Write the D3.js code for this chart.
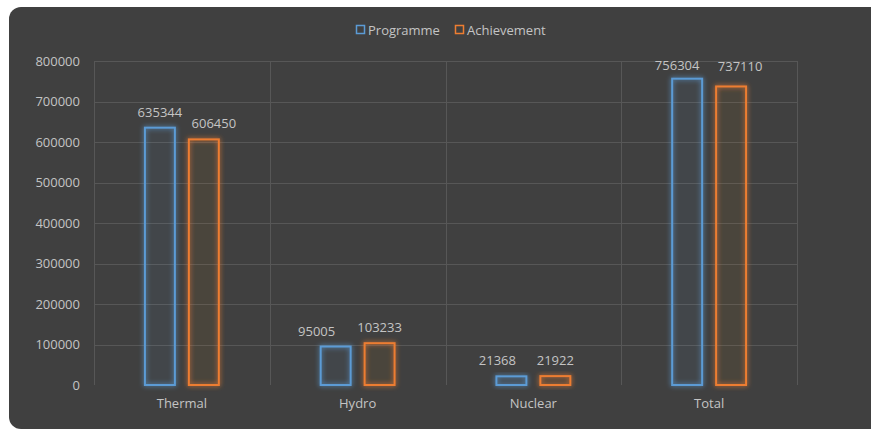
<!DOCTYPE html>
<html>
<head>
<meta charset="utf-8">
<script src="https://cdn.jsdelivr.net/npm/d3@7"></script>
<style>
  html, body { margin: 0; padding: 0; background: #fff; }
  svg { display: block; }
</style>
</head>
<body>
<div id="chart"></div>
<script>
const categories = ['Thermal', 'Hydro', 'Nuclear', 'Total'];
const seriesNames = ['Programme', 'Achievement'];
const programme = [635344, 95005, 21368, 756304];
const achievement = [606450, 103233, 21922, 737110];
const yTicks = [0, 100000, 200000, 300000, 400000, 500000, 600000, 700000, 800000];

const W = 871, H = 431;
const M = { left: 94, right: 74, top: 61, bottom: 46 };
const colors = { Programme: '#5b9bd5', Achievement: '#ed7d31' };
const font = '"Open Sans", "DejaVu Sans", sans-serif';
const textCol = '#c4c4c4';
const fs = 13;

// label nudges so the data labels sit where Excel placed them
const nudge = {
  'Thermal|Achievement': [10, 0],
  'Hydro|Programme': [-19, 0],
  'Nuclear|Programme': [-14, 0],
  'Total|Programme': [-10, 2],
  'Total|Achievement': [9, -4],
};

const svg = d3.select('#chart').append('svg')
  .attr('width', W).attr('height', H);

const defs = svg.append('defs');
const glow = defs.append('filter').attr('id', 'glow')
  .attr('x', '-50%').attr('y', '-50%').attr('width', '200%').attr('height', '200%');
glow.append('feGaussianBlur').attr('in', 'SourceGraphic').attr('stdDeviation', 2.5).attr('result', 'b');
const fm = glow.append('feMerge');
fm.append('feMergeNode').attr('in', 'b');
fm.append('feMergeNode').attr('in', 'SourceGraphic');

// panel (runs off right edge)
svg.append('rect')
  .attr('x', 9).attr('y', 7).attr('width', W + 20).attr('height', 422)
  .attr('rx', 12).attr('fill', '#404040');

const x = d3.scaleBand().domain(categories).range([M.left, W - M.right]);
const bw = x.bandwidth();
const xs = d3.scaleBand().domain(seriesNames)
  .range([bw * 50 / 176, bw * 126 / 176]).paddingInner(12 / 44);
const y = d3.scaleLinear().domain([0, 800000]).range([H - M.bottom, M.top]);

// horizontal grid
svg.append('g').selectAll('line').data(yTicks.slice(1)).join('line')
  .attr('x1', M.left).attr('x2', W - M.right)
  .attr('y1', d => Math.round(y(d)) + 0.5).attr('y2', d => Math.round(y(d)) + 0.5)
  .attr('stroke', '#575757').attr('stroke-width', 1);

// vertical grid
const vx = categories.map(c => x(c)).concat([x(categories[categories.length - 1]) + bw]);
svg.append('g').selectAll('line').data(vx).join('line')
  .attr('x1', d => Math.round(d) + 0.5).attr('x2', d => Math.round(d) + 0.5)
  .attr('y1', y(800000)).attr('y2', y(0))
  .attr('stroke', '#575757').attr('stroke-width', 1);

// y labels
svg.append('g').selectAll('text').data(yTicks).join('text')
  .attr('x', 80).attr('y', d => y(d))
  .attr('dy', '0.35em').attr('text-anchor', 'end')
  .attr('font-family', font).attr('font-size', fs).attr('fill', textCol)
  .text(d => d);

// x labels
svg.append('g').selectAll('text').data(categories).join('text')
  .attr('x', d => x(d) + bw / 2).attr('y', y(0) + 23)
  .attr('text-anchor', 'middle')
  .attr('font-family', font).attr('font-size', fs).attr('fill', textCol)
  .text(d => d);

const rows = [];
categories.forEach((c, i) => {
  rows.push({ cat: c, s: 'Programme', v: programme[i] });
  rows.push({ cat: c, s: 'Achievement', v: achievement[i] });
});

const bars = svg.append('g');
bars.selectAll('rect').data(rows).join('rect')
  .attr('x', d => x(d.cat) + xs(d.s) + 1)
  .attr('y', d => y(d.v))
  .attr('width', xs.bandwidth() - 2)
  .attr('height', d => y(0) - y(d.v))
  .attr('fill', d => colors[d.s]).attr('fill-opacity', 0.03)
  .attr('stroke', d => colors[d.s]).attr('stroke-width', 2)
  .attr('filter', 'url(#glow)');

// value labels
const off = d => nudge[d.cat + '|' + d.s] || [0, 0];
svg.append('g').selectAll('text').data(rows).join('text')
  .attr('x', d => x(d.cat) + xs(d.s) + xs.bandwidth() / 2 + off(d)[0])
  .attr('y', d => y(d.v) - 11 + off(d)[1])
  .attr('text-anchor', 'middle')
  .attr('font-family', font).attr('font-size', fs).attr('fill', textCol)
  .text(d => d.v);

// legend
const legend = svg.append('g');
const items = [{ s: 'Programme', x: 356 }, { s: 'Achievement', x: 455 }];
items.forEach(it => {
  legend.append('rect')
    .attr('x', it.x + 0.5).attr('y', 25.5).attr('width', 8).attr('height', 8)
    .attr('fill', 'none').attr('stroke', colors[it.s]).attr('stroke-width', 1.5);
  legend.append('text')
    .attr('x', it.x + 12).attr('y', 30)
    .attr('dy', '0.35em')
    .attr('font-family', font).attr('font-size', fs).attr('fill', textCol)
    .text(it.s);
});
</script>
</body>
</html>
